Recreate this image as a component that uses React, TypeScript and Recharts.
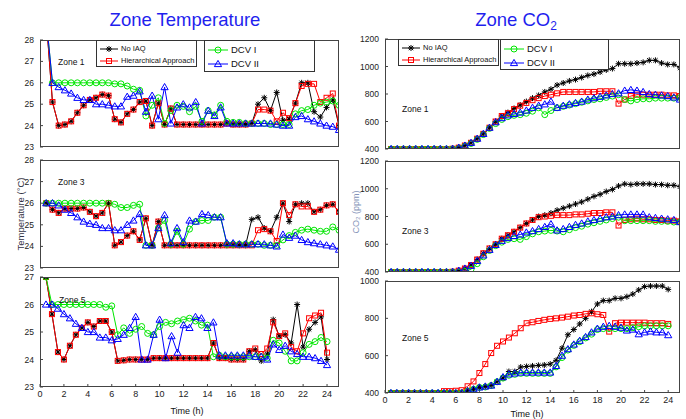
import React from "react";
import { LineChart, Line, XAxis, YAxis } from "recharts";

// time stamps (h), one sample every half hour
const TIME = [
  0.5, 1, 1.5, 2, 2.5, 3, 3.5, 4, 4.5, 5, 5.5, 6, 6.5, 7, 7.5, 8,
  8.5, 9, 9.5, 10, 10.5, 11, 11.5, 12, 12.5, 13, 13.5, 14, 14.5, 15, 15.5, 16,
  16.5, 17, 17.5, 18, 18.5, 19, 19.5, 20, 20.5, 21, 21.5, 22, 22.5, 23, 23.5, 24,
];
const X_TICKS = [0, 2, 4, 6, 8, 10, 12, 14, 16, 18, 20, 22, 24];
const TEMP_TICKS = [23, 24, 25, 26, 27, 28];
const TEMP_TICKS_Z5 = [23, 24, 25, 26, 27];
const CO2_TICKS = [400, 600, 800, 1000, 1200];
const CO2_TICKS_Z5 = [400, 600, 800, 1000];

// zone 1 temperature
const T1_NOIAQ = [
  29, 25.1, 24.0, 24.05, 24.2, 24.6, 24.95, 25.2,
  25.3, 25.45, 25.4, 24.3, 24.15, 24.55, 24.75, 25.1,
  25.15, 24.0, 25.05, 24.05, 24.8, 24.05, 24.05, 24.05,
  24.05, 24.05, 24.05, 24.05, 24.05, 24.1, 24.05, 24.05,
  24.05, 24.1, 25.0, 25.3, 24.7, 25.55, 24.25, 24.3,
  25.05, 26.0, 26.0, 24.65, 24.4, 24.85, 25.2, 24.0,
];
const T1_HA = [
  29, 25.1, 24.0, 24.05, 24.2, 24.6, 24.95, 25.2,
  25.3, 25.45, 25.4, 24.3, 24.15, 24.55, 24.75, 25.1,
  25.15, 24.0, 25.05, 24.05, 24.8, 24.05, 24.05, 24.05,
  24.05, 24.05, 24.05, 24.05, 24.05, 24.1, 24.05, 24.05,
  24.05, 24.1, 24.75, 24.75, 24.7, 24.2, 24.6, 24.35,
  25.05, 25.85, 25.95, 25.95, 25.1, 25.3, 25.5, 24.0,
];
const T1_DCV1 = [
  29, 26.0, 26.0, 26.0, 26.0, 26.0, 26.0, 26.0,
  26.0, 26.0, 26.0, 25.95, 25.95, 25.85, 25.7, 25.65,
  24.45, 24.95, 25.3, 24.1, 24.7, 24.95, 24.9, 24.65,
  24.9, 24.2, 24.7, 24.5, 24.95, 24.2, 24.15, 24.15,
  24.1, 24.1, 24.1, 24.1, 24.05, 24.05, 24.05, 24.05,
  24.55, 24.7, 24.75, 24.95, 25.05, 25.1, 25.15, 24.95,
];
const T1_DCV2 = [
  29, 26.0, 25.8, 25.65, 25.5, 25.3, 25.2, 25.2,
  25.0, 25.0, 24.95, 24.9, 24.9, 25.35, 25.4, 25.6,
  24.65, 25.4, 24.3, 25.8, 24.1, 24.85, 25.0, 24.85,
  25.1, 24.1, 24.7, 24.45, 24.85, 24.1, 24.1, 24.1,
  24.1, 24.1, 24.1, 24.1, 24.1, 24.05, 24.0, 24.0,
  24.4, 24.45, 24.3, 24.2, 24.1, 24.0, 23.95, 23.8,
];

// zone 3 temperature
const T3_NOIAQ = [
  26.0, 25.7, 25.55, 25.75, 25.75, 25.75, 25.8, 25.6,
  25.4, 25.55, 26.0, 24.05, 24.2, 24.5, 24.7, 24.3,
  25.3, 24.05, 25.15, 24.05, 24.05, 24.05, 24.05, 24.05,
  24.05, 24.05, 24.05, 24.05, 24.05, 24.05, 24.05, 24.05,
  24.05, 25.25, 25.35, 24.85, 24.7, 25.35, 26.0, 25.15,
  25.95, 26.0, 26.0, 25.6, 25.7, 25.9, 25.95, 25.6,
];
const T3_HA = [
  26.0, 25.7, 25.55, 25.75, 25.75, 25.75, 25.8, 25.6,
  25.4, 25.55, 26.0, 24.05, 24.2, 24.5, 24.7, 24.3,
  25.3, 24.05, 25.15, 24.05, 24.05, 24.05, 24.05, 24.05,
  24.05, 24.05, 24.05, 24.05, 24.05, 24.05, 24.05, 24.05,
  24.05, 24.05, 24.75, 24.8, 24.7, 24.25, 26.0, 25.45,
  25.95, 25.85, 25.85, 25.6, 25.7, 25.9, 25.95, 25.6,
];
const T3_DCV1 = [
  26.0, 26.0, 26.0, 26.0, 26.0, 26.0, 26.0, 26.0,
  26.0, 26.0, 26.0, 25.95, 25.8, 25.8, 25.9, 25.95,
  24.05, 24.05, 24.85, 25.2, 24.1, 24.7, 24.1, 24.8,
  25.15, 25.2, 25.2, 25.35, 25.35, 24.1, 24.1, 24.1,
  24.1, 24.1, 24.1, 24.05, 24.05, 24.05, 24.3, 24.5,
  24.65, 24.75, 24.8, 24.75, 24.7, 24.7, 24.9, 24.75,
];
const T3_DCV2 = [
  26.0, 26.0, 25.9, 25.7, 25.55, 25.35, 25.15, 25.05,
  25.0, 24.85, 24.85, 24.75, 24.75, 25.0, 25.2, 25.5,
  24.05, 24.05, 24.85, 25.45, 24.15, 24.85, 24.2, 25.2,
  25.15, 25.5, 25.45, 25.35, 25.35, 24.15, 24.15, 24.1,
  24.1, 24.1, 24.1, 24.1, 24.05, 24.0, 24.55, 24.4,
  24.5, 24.3, 24.2, 24.15, 24.1, 24.05, 24.0, 23.85,
];

// zone 5 temperature
const T5_NOIAQ = [
  27.0, 25.65, 24.27, 24.0, 24.5, 24.9, 25.15, 25.35,
  25.2, 25.4, 25.4, 25.0, 23.95, 23.97, 24.0, 24.0,
  24.0, 24.0, 24.05, 24.05, 24.05, 24.05, 24.05, 24.05,
  24.05, 24.05, 24.05, 24.05, 24.6, 24.05, 24.05, 24.0,
  24.0, 24.0, 24.3, 24.35, 23.95, 24.2, 25.45, 24.85,
  24.9, 24.6, 26.0, 24.45, 25.1, 25.35, 25.55, 24.0,
];
const T5_HA = [
  27.0, 25.65, 24.27, 24.0, 24.5, 24.9, 25.15, 25.35,
  25.2, 25.4, 25.4, 25.0, 23.95, 23.97, 24.0, 24.0,
  24.0, 24.0, 24.05, 24.05, 24.05, 24.05, 24.05, 24.05,
  24.05, 24.05, 24.05, 24.05, 24.6, 24.05, 24.05, 24.0,
  24.0, 24.0, 24.3, 24.4, 24.2, 24.4, 25.35, 24.85,
  24.95, 24.45, 24.3, 24.95, 25.5, 25.6, 25.7, 24.25,
];
const T5_DCV1 = [
  27.0, 26.0, 26.0, 26.0, 26.0, 26.0, 26.0, 26.0,
  26.0, 26.0, 25.9, 25.95, 24.9, 25.15, 24.95, 25.1,
  25.2, 24.95, 24.9, 25.2, 25.35, 25.3, 25.4, 25.45,
  25.5, 25.4, 25.25, 25.25, 24.1, 24.15, 24.1, 24.1,
  24.1, 24.1, 24.1, 24.1, 24.1, 24.05, 24.7, 24.6,
  24.3, 23.95, 23.95, 24.25, 24.55, 24.65, 24.8, 24.65,
];
const T5_DCV2 = [
  26.0, 26.0, 25.85, 25.65, 25.5, 25.3, 25.15, 25.0,
  25.0, 24.8, 24.8, 24.7, 24.75, 24.9, 25.15, 25.55,
  24.0, 24.0, 24.9, 25.45, 24.05, 24.85, 24.25, 25.25,
  25.15, 25.55, 25.5, 25.15, 25.35, 24.15, 24.15, 24.15,
  24.15, 24.15, 24.15, 24.1, 24.1, 24.0, 24.55, 24.35,
  24.5, 24.3, 24.2, 24.1, 24.1, 24.05, 23.95, 23.8,
];

// zone 1 CO2 (ppm)
const C1_NOIAQ = [
  400, 400, 400, 400, 400, 400, 400, 400,
  400, 400, 402, 410, 425, 445, 475, 510,
  555, 600, 640, 665, 695, 720, 745, 770,
  790, 815, 835, 865, 880, 895, 905, 920,
  935, 945, 960, 975, 985, 1020, 1020, 1020,
  1025, 1030, 1045, 1045, 1025, 1015, 1015, 990,
];
const C1_HA = [
  400, 400, 400, 400, 400, 400, 400, 400,
  400, 400, 402, 410, 425, 445, 475, 510,
  555, 600, 640, 660, 690, 715, 735, 755,
  770, 785, 795, 805, 815, 815, 815, 815,
  815, 815, 820, 820, 820, 730, 760, 785,
  795, 795, 795, 795, 795, 790, 790, 785,
];
const C1_DCV1 = [
  400, 400, 400, 400, 400, 400, 400, 400,
  400, 400, 400, 405, 420, 440, 470, 505,
  550, 585, 615, 635, 645, 650, 660, 675,
  700, 650, 680, 700, 710, 720, 730, 740,
  750, 760, 765, 775, 785, 795, 760, 750,
  760, 765, 765, 770, 770, 770, 770, 775,
];
const C1_DCV2 = [
  400, 400, 400, 400, 400, 400, 400, 400,
  400, 400, 402, 410, 425, 445, 475, 510,
  555, 595, 625, 645, 655, 665, 680, 700,
  715, 725, 745, 700, 715, 725, 735, 745,
  760, 770, 780, 790, 800, 805, 825, 830,
  825, 815, 800, 795, 790, 785, 775, 760,
];

// zone 3 CO2 (ppm)
const C3_NOIAQ = [
  400, 400, 400, 400, 400, 400, 400, 400,
  400, 400, 402, 410, 425, 450, 490, 535,
  570, 600, 640, 665, 690, 720, 750, 775,
  800, 810, 825, 845, 860, 875, 890, 905,
  925, 945, 960, 980, 995, 1020, 1035, 1030,
  1035, 1035, 1035, 1030, 1030, 1025, 1025, 1015,
];
const C3_HA = [
  400, 400, 400, 400, 400, 400, 400, 400,
  400, 400, 402, 410, 425, 450, 490, 535,
  570, 600, 640, 665, 690, 720, 750, 775,
  795, 800, 805, 810, 810, 810, 815, 815,
  820, 825, 825, 830, 830, 735, 775, 780,
  785, 780, 780, 775, 775, 770, 770, 765,
];
const C3_DCV1 = [
  400, 400, 400, 400, 400, 400, 400, 400,
  400, 400, 400, 400, 405, 420, 460, 510,
  555, 590, 615, 635, 640, 635, 655, 675,
  690, 695, 700, 695, 690, 705, 720, 730,
  745, 755, 765, 775, 785, 795, 770, 770,
  770, 770, 770, 765, 765, 765, 760, 760,
];
const C3_DCV2 = [
  400, 400, 400, 400, 400, 400, 400, 400,
  400, 400, 402, 410, 425, 445, 480, 520,
  560, 595, 625, 645, 660, 670, 685, 695,
  710, 725, 745, 700, 710, 725, 740, 750,
  765, 775, 785, 795, 800, 810, 815, 815,
  815, 815, 795, 790, 785, 780, 775, 760,
];

// zone 5 CO2 (ppm)
const C5_NOIAQ = [
  400, 400, 400, 400, 400, 400, 400, 400,
  400, 400, 400, 400, 400, 415, 420, 430,
  435, 440, 460, 480, 515, 515, 539, 542,
  545, 548, 550, 555, 575, 640, 712, 740,
  770, 800, 836, 877, 895, 895, 907, 907,
  916, 930, 952, 970, 973, 973, 973, 955,
];
const C5_HA = [
  400, 400, 400, 400, 400, 400, 400, 400,
  400, 410, 410, 412, 415, 436, 462, 507,
  555, 614, 653, 676, 697, 720, 747, 774,
  779, 786, 792, 797, 800, 804, 809, 815,
  818, 824, 827, 822, 818, 729, 774, 777,
  777, 777, 777, 777, 774, 774, 774, 770,
];
const C5_DCV1 = [
  400, 400, 400, 400, 400, 400, 400, 400,
  400, 400, 400, 400, 400, 410, 420, 430,
  432, 440, 460, 480, 495, 500, 505, 505,
  505, 505, 505, 505, 540, 590, 630, 655,
  675, 695, 715, 740, 745, 745, 745, 745,
  745, 750, 755, 760, 760, 760, 760, 760,
];
const C5_DCV2 = [
  400, 400, 400, 400, 400, 400, 400, 400,
  400, 400, 400, 400, 400, 410, 420, 430,
  435, 440, 460, 485, 500, 505, 510, 510,
  510, 510, 510, 510, 545, 600, 635, 660,
  680, 700, 725, 745, 755, 760, 755, 750,
  735, 740, 715, 725, 730, 725, 725, 710,
];

const FONT = '"Liberation Sans", Arial, Helvetica, sans-serif';

const SERIES = [
  { key: "noIaq", name: "No IAQ", color: "#000000", kind: "star" },
  { key: "ha", name: "Hierarchical Approach", color: "#ff0000", kind: "square" },
  { key: "dcv1", name: "DCV I", color: "#00e600", kind: "circle" },
  { key: "dcv2", name: "DCV II", color: "#0000ff", kind: "triangle" },
];

const rows = (a: number[], b: number[], c: number[], d: number[]) =>
  TIME.map((t, i) => ({ t, noIaq: a[i], ha: b[i], dcv1: c[i], dcv2: d[i] }));

const Marker = ({ kind, cx, cy, color }: any) => {
  if (kind === "star") {
    return (
      <g stroke={color} strokeWidth={1}>
        <line x1={cx - 3} y1={cy} x2={cx + 3} y2={cy} />
        <line x1={cx} y1={cy - 3} x2={cx} y2={cy + 3} />
        <line x1={cx - 2.2} y1={cy - 2.2} x2={cx + 2.2} y2={cy + 2.2} />
        <line x1={cx - 2.2} y1={cy + 2.2} x2={cx + 2.2} y2={cy - 2.2} />
      </g>
    );
  }
  if (kind === "square") {
    return <rect x={cx - 2.5} y={cy - 2.5} width={5} height={5} fill="none" stroke={color} strokeWidth={1} />;
  }
  if (kind === "circle") {
    return <circle cx={cx} cy={cy} r={3} fill="none" stroke={color} strokeWidth={1} />;
  }
  return (
    <polygon
      points={`${cx},${cy - 3.6} ${cx - 3.6},${cy + 2.6} ${cx + 3.6},${cy + 2.6}`}
      fill="none"
      stroke={color}
      strokeWidth={1}
    />
  );
};

const dotFor = (kind: string, color: string, yMax: number) => (p: any) => {
  const k = `d-${p.index}`;
  if (p.cx == null || p.cy == null || p.value > yMax) return <g key={k} />;
  return <Marker key={k} kind={kind} color={color} cx={p.cx} cy={p.cy} />;
};

const Y_W = 40;
const PAD = 6;

type PanelProps = {
  data: any[];
  left: number;
  top: number;
  width: number;
  height: number;
  xMax: number;
  yMin: number;
  yMax: number;
  yTicks: number[];
  xLabels: boolean;
};

const Panel = ({ data, left, top, width, height, xMax, yMin, yMax, yTicks, xLabels }: PanelProps) => {
  const xh = xLabels ? 18 : 4;
  return (
    <>
      <div style={{ position: "absolute", left: left - Y_W, top: top - PAD }}>
        <LineChart
          width={Y_W + width + PAD}
          height={PAD + height + xh}
          data={data}
          margin={{ top: PAD, right: PAD, left: 0, bottom: 0 }}
        >
          <XAxis
            dataKey="t"
            type="number"
            domain={[0, xMax]}
            ticks={X_TICKS}
            interval={0}
            height={xh}
            axisLine={false}
            tickSize={-3}
            tickMargin={7}
            tickLine={{ stroke: "#444" }}
            tick={xLabels ? { fontSize: 9, fill: "#222", fontFamily: FONT } : false}
            allowDataOverflow
          />
          <YAxis
            type="number"
            domain={[yMin, yMax]}
            ticks={yTicks}
            interval={0}
            width={Y_W}
            axisLine={false}
            tickSize={-3}
            tickMargin={9}
            tickLine={{ stroke: "#444" }}
            tick={{ fontSize: 8.5, fill: "#222", fontFamily: FONT }}
            allowDataOverflow
          />
          {SERIES.map((s) => (
            <Line
              key={s.key}
              dataKey={s.key}
              type="linear"
              stroke={s.color}
              strokeWidth={1}
              dot={dotFor(s.kind, s.color, yMax)}
              activeDot={false}
              isAnimationActive={false}
            />
          ))}
        </LineChart>
      </div>
      <div
        style={{
          position: "absolute",
          left,
          top,
          width,
          height,
          border: "1px solid #444",
          boxSizing: "border-box",
          pointerEvents: "none",
        }}
      />
    </>
  );
};

const LegendRow = ({ s, x, y, w, fontSize }: any) => (
  <div style={{ position: "absolute", left: x, top: y - 6, height: 12, display: "flex", alignItems: "center" }}>
    <svg width={w} height={12} style={{ display: "block" }}>
      <line x1={0} y1={6} x2={w} y2={6} stroke={s.color} strokeWidth={1} />
      <Marker kind={s.kind} color={s.color} cx={w / 2} cy={6} />
    </svg>
    <span style={{ marginLeft: 3, fontSize, color: "#111", whiteSpace: "nowrap", lineHeight: "12px" }}>{s.name}</span>
  </div>
);

const LegendBox = ({ left, top, width, height, items }: any) => (
  <div
    style={{
      position: "absolute",
      left,
      top,
      width,
      height,
      border: "1px solid #333",
      boxSizing: "border-box",
      background: "#fff",
    }}
  >
    {items}
  </div>
);

const Legends = ({ x1, x2, top, small }: any) => (
  <>
    <LegendBox
      left={x1}
      top={top}
      width={101}
      height={27}
      items={[
        <LegendRow key="a" s={SERIES[0]} x={3} y={8} w={18} fontSize={7.5} />,
        <LegendRow key="b" s={SERIES[1]} x={3} y={20} w={18} fontSize={7.5} />,
      ]}
    />
    <LegendBox
      left={x2}
      top={top}
      width={small ? 109 : 111}
      height={small ? 31 : 32}
      items={[
        <LegendRow key="c" s={SERIES[2]} x={3} y={9} w={20} fontSize={9.5} />,
        <LegendRow key="d" s={SERIES[3]} x={3} y={23} w={20} fontSize={9.5} />,
      ]}
    />
  </>
);

const Text = ({ x, y, size, children, color = "#111", anchor = "left" }: any) => (
  <div
    style={{
      position: "absolute",
      left: x,
      top: y - size / 2,
      fontSize: size,
      lineHeight: `${size}px`,
      color,
      whiteSpace: "nowrap",
      transform: anchor === "center" ? "translateX(-50%)" : undefined,
    }}
  >
    {children}
  </div>
);

export default function App() {
  const t1 = rows(T1_NOIAQ, T1_HA, T1_DCV1, T1_DCV2);
  const t3 = rows(T3_NOIAQ, T3_HA, T3_DCV1, T3_DCV2);
  const t5 = rows(T5_NOIAQ, T5_HA, T5_DCV1, T5_DCV2);
  const c1 = rows(C1_NOIAQ, C1_HA, C1_DCV1, C1_DCV2);
  const c3 = rows(C3_NOIAQ, C3_HA, C3_DCV1, C3_DCV2);
  const c5 = rows(C5_NOIAQ, C5_HA, C5_DCV1, C5_DCV2);

  return (
    <div
      style={{
        position: "absolute",
        left: 0,
        top: 0,
        width: 686,
        height: 419,
        background: "#fff",
        overflow: "hidden",
        fontFamily: FONT,
      }}
    >
      <Text x={185} y={20} size={18.5} color="#1f1fee" anchor="center">
        Zone Temperature
      </Text>
      <Text x={516} y={20} size={18.5} color="#1f1fee" anchor="center">
        Zone CO<sub style={{ fontSize: 12, verticalAlign: "-4px" }}>2</sub>
      </Text>

      <Panel data={t1} left={40} top={40} width={299} height={107} xMax={24} yMin={23} yMax={28} yTicks={TEMP_TICKS} xLabels={false} />
      <Panel data={t3} left={40} top={160} width={299} height={108} xMax={24} yMin={23} yMax={28} yTicks={TEMP_TICKS} xLabels={false} />
      <Panel data={t5} left={40} top={277} width={299} height={110} xMax={25} yMin={23} yMax={27} yTicks={TEMP_TICKS_Z5} xLabels />

      <Panel data={c1} left={385} top={39} width={295} height={110} xMax={24} yMin={400} yMax={1200} yTicks={CO2_TICKS} xLabels={false} />
      <Panel data={c3} left={385} top={161} width={295} height={111} xMax={24} yMin={400} yMax={1200} yTicks={CO2_TICKS} xLabels={false} />
      <Panel data={c5} left={385} top={281} width={295} height={112} xMax={25} yMin={400} yMax={1000} yTicks={CO2_TICKS_Z5} xLabels />

      <Legends x1={96} x2={204} top={40} />
      <Legends x1={398} x2={500} top={39} small />

      <Text x={58} y={62} size={8.5}>Zone 1</Text>
      <Text x={58} y={182} size={8.5}>Zone 3</Text>
      <Text x={59} y={300} size={8.5}>Zone 5</Text>
      <Text x={402} y={109} size={8.5}>Zone 1</Text>
      <Text x={402} y={231} size={8.5}>Zone 3</Text>
      <Text x={402} y={338} size={8.5}>Zone 5</Text>

      <Text x={187} y={411} size={9} anchor="center">Time (h)</Text>
      <Text x={527} y={414} size={9} anchor="center">Time (h)</Text>

      <div
        style={{
          position: "absolute",
          left: 20,
          top: 214,
          fontSize: 9.5,
          color: "#334",
          whiteSpace: "nowrap",
          transform: "translate(-50%, -50%) rotate(-90deg)",
        }}
      >
        Temperature (°C)
      </div>
      <div
        style={{
          position: "absolute",
          left: 356,
          top: 212,
          fontSize: 9,
          color: "#8393b8",
          whiteSpace: "nowrap",
          transform: "translate(-50%, -50%) rotate(-90deg)",
        }}
      >
        CO₂ (ppm)
      </div>
    </div>
  );
}
